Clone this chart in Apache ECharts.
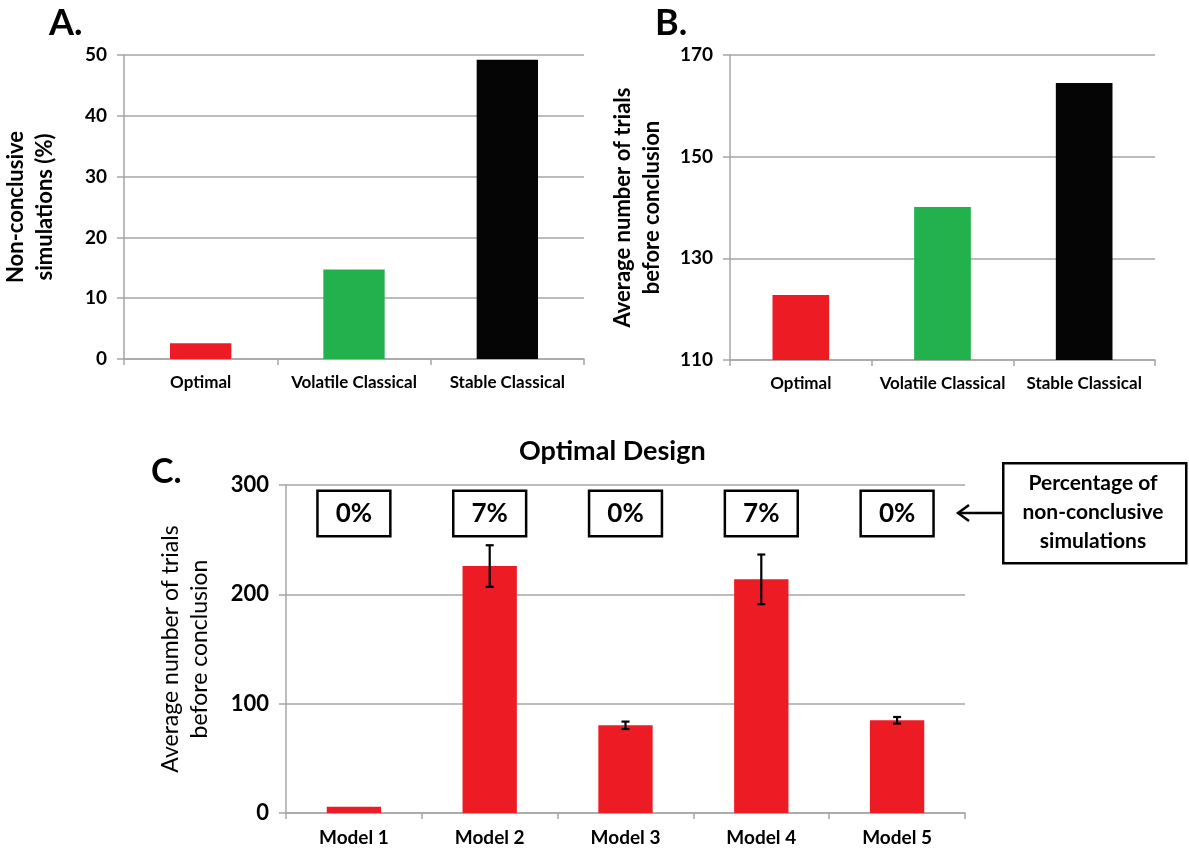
<!DOCTYPE html>
<html>
<head>
<meta charset="utf-8">
<script src="https://cdn.jsdelivr.net/npm/echarts@6/dist/echarts.min.js"></script>
<style>
  html, body { margin: 0; padding: 0; background: #fff; }
  #show_picture { width: 1189px; height: 850px; }
</style>
</head>
<body>
<div id="show_picture"></div>
<script>
// panels A and B
const designs = ['Optimal', 'Volatile Classical', 'Stable Classical'];
const designColors = ['#ED1C24', '#22B14C', '#050505'];
const nonConclusive = [2.6, 14.7, 49.2];
const avgTrialsDesign = [122.8, 140.1, 164.5];

// panel C
const models = ['Model 1', 'Model 2', 'Model 3', 'Model 4', 'Model 5'];
const avgTrialsModel = [5.8, 225.9, 80.2, 213.7, 84.8];
const errModel = [0, 19, 3.4, 22.7, 3];
const pctNonConclusive = ['0%', '7%', '0%', '7%', '0%'];

const FONT = 'Lato';
const gridGray = '#a6a6a6';

let myChart = echarts.init(document.getElementById('show_picture'));

function catAxis(idx, labels, size) {
    return {
        type: 'category', gridIndex: idx, data: labels,
        axisLine: { lineStyle: { color: gridGray, width: 1.5 } },
        axisTick: { show: true, length: 6, lineStyle: { color: gridGray, width: 1.5 } },
        axisLabel: { interval: 0, color: '#000', fontFamily: FONT, fontWeight: 'bold', fontSize: size, margin: 15 }
    };
}

function valAxis(idx, min, max, interval, name, nameGap, nameWeight, nameSize, labelSize) {
    return {
        type: 'value', gridIndex: idx, min: min, max: max, interval: interval,
        name: name, nameLocation: 'middle', nameGap: nameGap,
        nameTextStyle: { color: '#000', fontFamily: FONT, fontWeight: nameWeight, fontSize: nameSize, lineHeight: 29, align: 'center' },
        axisLine: { show: true, lineStyle: { color: gridGray, width: 1.5 } },
        axisTick: { show: true, length: 7, lineStyle: { color: gridGray, width: 1.5 } },
        splitLine: { lineStyle: { color: gridGray, width: 1.5 } },
        axisLabel: { color: '#000', fontFamily: FONT, fontWeight: 'bold', fontSize: labelSize, margin: 17 }
    };
}

let option = {
    animation: false,
    backgroundColor: '#fff',
    title: [
        { text: 'A.', left: 44, top: 0, textStyle: { fontFamily: FONT, fontWeight: 'bold', fontSize: 36, color: '#000' } },
        { text: 'B.', left: 650, top: 0, textStyle: { fontFamily: FONT, fontWeight: 'bold', fontSize: 36, color: '#000' } },
        { text: 'C.', left: 146, top: 450, textStyle: { fontFamily: FONT, fontWeight: 'bold', fontSize: 34, color: '#000' } },
        { text: 'Optimal Design', left: 514, top: 433, textStyle: { fontFamily: FONT, fontWeight: 'bold', fontSize: 27, color: '#000' } }
    ],
    grid: [
        { left: 112, right: 605, top: 55, bottom: 491 },
        { left: 730, right: 34, top: 55, bottom: 490 },
        { left: 286, right: 224, top: 485, bottom: 37 }
    ],
    xAxis: [
        catAxis(0, designs, 17),
        catAxis(1, designs, 17),
        catAxis(2, models, 19)
    ],
    yAxis: [
        valAxis(0, 0, 50, 10, 'Non-conclusive\nsimulations (%)', 65, 'bold', 22, 19),
        valAxis(1, 110, 170, 20, 'Average number of trials\nbefore conclusion', 64, 'bold', 22, 19),
        valAxis(2, 0, 300, 100, 'Average number of trials\nbefore conclusion', 72, 'normal', 23, 22)
    ],
    series: [
        {
            type: 'bar', xAxisIndex: 0, yAxisIndex: 0, barWidth: '40%',
            data: nonConclusive.map((v, i) => ({ value: v, itemStyle: { color: designColors[i] } }))
        },
        {
            type: 'bar', xAxisIndex: 1, yAxisIndex: 1, barWidth: '40%',
            data: avgTrialsDesign.map((v, i) => ({ value: v, itemStyle: { color: designColors[i] } }))
        },
        {
            type: 'bar', xAxisIndex: 2, yAxisIndex: 2, barWidth: '40%',
            itemStyle: { color: '#ED1C24' },
            data: avgTrialsModel
        },
        {
            // error bars
            type: 'custom', xAxisIndex: 2, yAxisIndex: 2, z: 10,
            data: avgTrialsModel.map((v, i) => [i, v, errModel[i]]),
            renderItem: (params, api) => {
                const x = api.value(0), y = api.value(1), e = api.value(2);
                if (!e) return null;
                const hi = api.coord([x, y + e]);
                const lo = api.coord([x, y - e]);
                const w = 4;
                const st = { stroke: '#000', lineWidth: 2.2 };
                return {
                    type: 'group',
                    children: [
                        { type: 'line', shape: { x1: hi[0], y1: hi[1], x2: lo[0], y2: lo[1] }, style: st },
                        { type: 'line', shape: { x1: hi[0] - w, y1: hi[1], x2: hi[0] + w, y2: hi[1] }, style: st },
                        { type: 'line', shape: { x1: lo[0] - w, y1: lo[1], x2: lo[0] + w, y2: lo[1] }, style: st }
                    ]
                };
            }
        },
        {
            // percentage boxes above the bars
            type: 'scatter', xAxisIndex: 2, yAxisIndex: 2, symbolSize: 0, z: 20,
            itemStyle: { opacity: 1, color: '#000' },
            data: pctNonConclusive.map((t, i) => [i, 274, t]),
            label: {
                show: true, position: 'inside',
                formatter: p => p.value[2],
                fontFamily: FONT, fontWeight: 'bold', fontSize: 26, color: '#000',
                textBorderWidth: 0, textShadowBlur: 0,
                lineHeight: 30, padding: [7, 17, 6, 17],
                borderColor: '#000', borderWidth: 2.5, backgroundColor: '#fff'
            }
        }
    ],
    graphic: [
        {
            type: 'rect', left: 1002, top: 462,
            shape: { width: 183, height: 100 },
            style: { fill: '#fff', stroke: '#000', lineWidth: 2.5 }
        },
        {
            type: 'text', x: 1093, y: 512,
            style: {
                text: 'Percentage of\nnon-conclusive\nsimulations',
                fontFamily: FONT, fontWeight: 'bold', fontSize: 21, lineHeight: 29,
                fill: '#000', align: 'center', verticalAlign: 'middle'
            }
        },
        {
            type: 'line', shape: { x1: 1002, y1: 513, x2: 959, y2: 513 },
            style: { stroke: '#000', lineWidth: 2.5 }
        },
        {
            type: 'polyline', shape: { points: [[969, 505], [958, 513], [969, 521]] },
            style: { stroke: '#000', lineWidth: 2.5, fill: null }
        }
    ]
};

option && myChart.setOption(option);
</script>
</body>
</html>
